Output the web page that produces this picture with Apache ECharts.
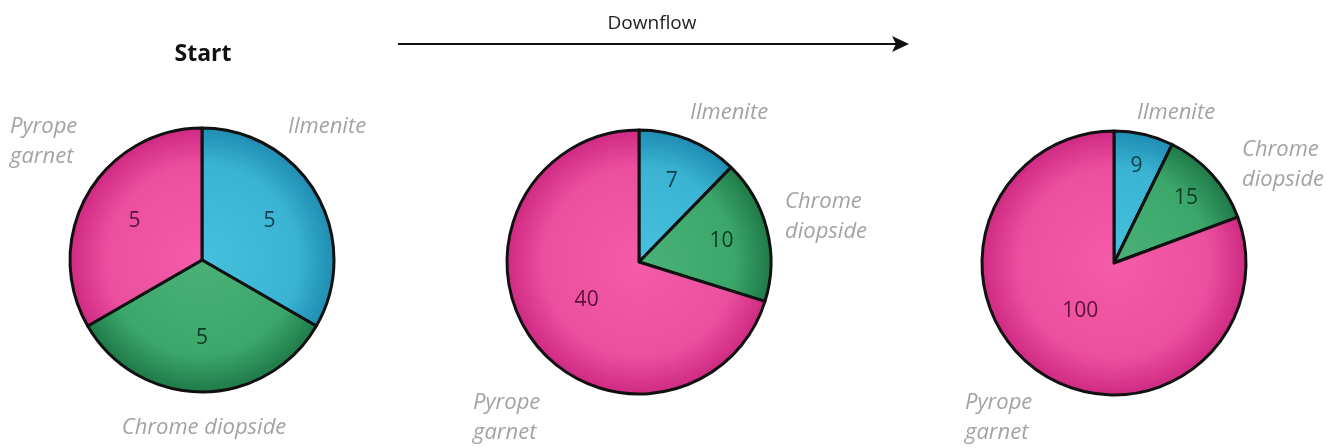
<!DOCTYPE html>
<html>
<head>
<meta charset="utf-8">
<script src="https://cdn.jsdelivr.net/npm/echarts@6/dist/echarts.min.js"></script>
<style>
  html, body { margin: 0; padding: 0; background: #ffffff; }
  #chart { width: 1341px; height: 448px; }
</style>
</head>
<body>
<div id="chart"></div>
<script>
// Mineral counts along the flow, one pie per stage
const categories = ['Ilmenite', 'Chrome diopside', 'Pyrope garnet'];
const stageTitles = ['Start', '', ''];
const startCounts = [5, 5, 5];
const middleCounts = [7, 10, 40];
const endCounts = [9, 15, 100];
const flowLabel = 'Downflow';

const stages = [startCounts, middleCounts, endCounts];

// Fill colours per mineral: [centre, body, edge] of the radial shading
const fills = [
  ['#46c0dc', '#3ab4d2', '#1f8db2'],
  ['#4ab177', '#3ca76b', '#1f7a48'],
  ['#f45ba9', '#ec4f9f', '#cf2a83']
];
const valueInk = ['#0f3d4b', '#0c3a22', '#5a1236'];
const nameInk = '#a3a3a3';
const FONT = '"Open Sans", "Noto Sans", sans-serif';

// Geometry of each pie and where its value labels sit
const layout = [
  { cx: 202, cy: 260, r: 132, labelR: [75, 75, 75] },
  { cx: 639, cy: 262, r: 132, labelR: [84, 82, 62] },
  { cx: 1114, cy: 263, r: 132, labelR: [97, 94, 56] }
];

// Category name placement: x, y of the first line's middle, line breaks
const namePlacement = [
  [
    { x: 288, y: 127, lines: ['Ilmenite'] },
    { x: 204, y: 428, lines: ['Chrome diopside'], align: 'center' },
    { x: 10, y: 127, lines: ['Pyrope', 'garnet'] }
  ],
  [
    { x: 690, y: 113, lines: ['Ilmenite'] },
    { x: 785, y: 202, lines: ['Chrome', 'diopside'] },
    { x: 473, y: 403, lines: ['Pyrope', 'garnet'] }
  ],
  [
    { x: 1137, y: 113, lines: ['Ilmenite'] },
    { x: 1242, y: 150, lines: ['Chrome', 'diopside'] },
    { x: 965, y: 403, lines: ['Pyrope', 'garnet'] }
  ]
];
const LINE_GAP = 30;

function shade(i, g) {
  return {
    type: 'radial', x: g.cx, y: g.cy, r: g.r, global: true,
    colorStops: [
      { offset: 0, color: fills[i][0] },
      { offset: 0.72, color: fills[i][1] },
      { offset: 1, color: fills[i][2] }
    ]
  };
}

const series = [];
stages.forEach(function (counts, s) {
  const g = layout[s];
  // the coloured slices
  series.push({
    type: 'pie',
    center: [g.cx, g.cy],
    radius: [0, g.r],
    startAngle: 90,
    clockwise: true,
    silent: true,
    animation: false,
    avoidLabelOverlap: false,
    label: { show: false },
    labelLine: { show: false },
    itemStyle: { borderColor: '#111111', borderWidth: 3 },
    data: counts.map(function (v, i) {
      return { name: categories[i], value: v, itemStyle: { color: shade(i, g) } };
    })
  });
  // value labels: one invisible ring per distinct label radius
  const radii = Array.from(new Set(g.labelR));
  radii.forEach(function (lr) {
    series.push({
      type: 'pie',
      center: [g.cx, g.cy],
      radius: [0, lr * 2],
      startAngle: 90,
      clockwise: true,
      silent: true,
      animation: false,
      avoidLabelOverlap: false,
      z: 5,
      itemStyle: { color: 'rgba(0,0,0,0)', borderWidth: 0 },
      labelLine: { show: false },
      emphasis: { disabled: true },
      data: counts.map(function (v, i) {
        return {
          name: categories[i], value: v,
          label: {
            show: g.labelR[i] === lr,
            position: 'inside',
            formatter: '{c}',
            color: valueInk[i],
            fontFamily: FONT,
            fontSize: 21
          }
        };
      })
    });
  });
});

// Category names, stage title, and the flow arrow
const graphic = [];
namePlacement.forEach(function (stage) {
  stage.forEach(function (p) {
    p.lines.forEach(function (line, k) {
      graphic.push({
        type: 'text',
        x: p.x, y: p.y + k * LINE_GAP,
        style: {
          text: line,
          fill: nameInk,
          fontFamily: FONT,
          fontStyle: 'italic',
          fontSize: 22,
          align: p.align || 'left',
          verticalAlign: 'middle'
        }
      });
    });
  });
});
stageTitles.forEach(function (t, s) {
  if (!t) return;
  graphic.push({
    type: 'text', x: layout[s].cx + 1, y: 54,
    style: { text: t, fill: '#111', fontFamily: FONT, fontWeight: 'bold', fontSize: 23, align: 'center', verticalAlign: 'middle' }
  });
});
graphic.push({
  type: 'text', x: 652, y: 24,
  style: { text: flowLabel, fill: '#222', fontFamily: FONT, fontSize: 19, align: 'center', verticalAlign: 'middle' }
});
graphic.push({
  type: 'line',
  shape: { x1: 398, y1: 44, x2: 898, y2: 44 },
  style: { stroke: '#111', lineWidth: 2 }
});
graphic.push({
  type: 'polygon',
  shape: { points: [[909, 44], [892, 36], [896, 44], [892, 52]] },
  style: { fill: '#111' }
});

const chart = echarts.init(document.getElementById('chart'), null, { renderer: 'canvas' });
chart.setOption({
  backgroundColor: '#ffffff',
  animation: false,
  series: series,
  graphic: graphic
});
</script>
</body>
</html>
